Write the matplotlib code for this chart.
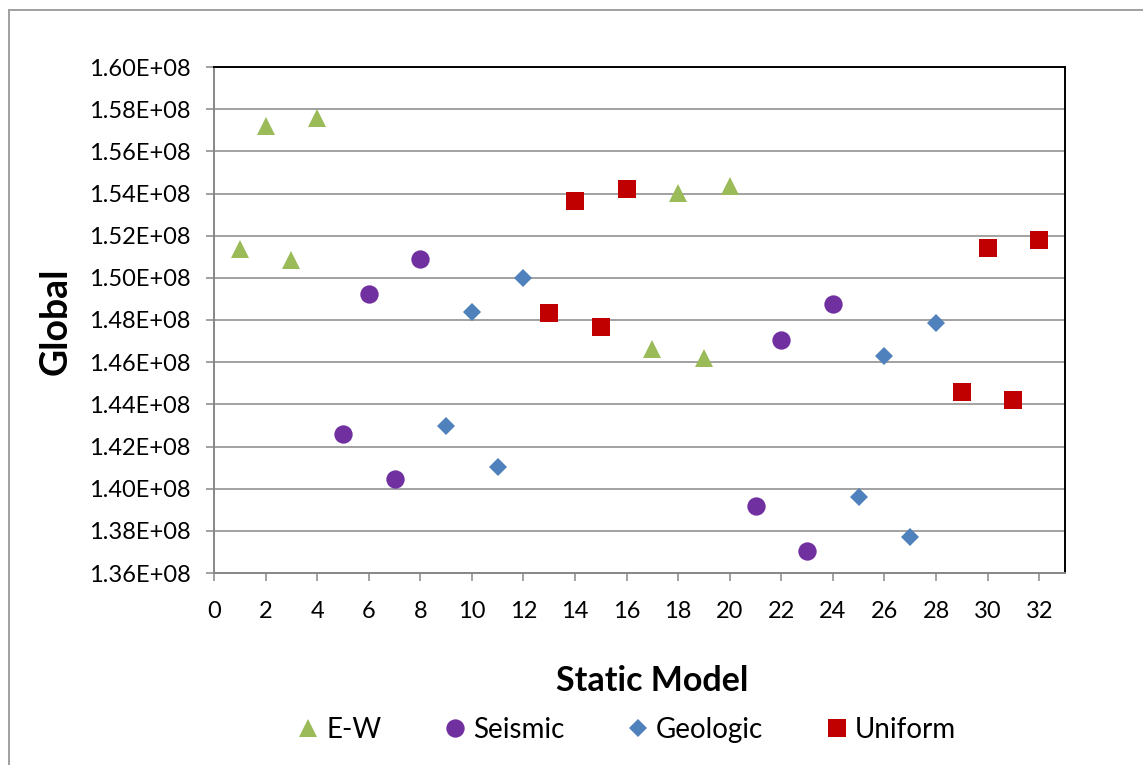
import matplotlib
matplotlib.use("Agg")
import matplotlib.pyplot as plt
from matplotlib.lines import Line2D
from matplotlib.ticker import FuncFormatter

plt.rcParams["font.family"] = ["Lato", "DejaVu Sans"]

# static model number -> global value, one list per model family
ew_x = [1, 2, 3, 4, 17, 18, 19, 20]
ew_y = [1.5136e8, 1.5719e8, 1.5084e8, 1.5759e8, 1.4661e8, 1.5403e8, 1.4621e8, 1.5435e8]

seismic_x = [5, 6, 7, 8, 21, 22, 23, 24]
seismic_y = [1.4258e8, 1.4925e8, 1.4044e8, 1.5089e8, 1.3919e8, 1.4704e8, 1.3704e8, 1.4874e8]

geologic_x = [9, 10, 11, 12, 25, 26, 27, 28]
geologic_y = [1.4297e8, 1.4838e8, 1.4101e8, 1.4998e8, 1.3959e8, 1.4629e8, 1.3772e8, 1.4786e8]

uniform_x = [13, 14, 15, 16, 29, 30, 31, 32]
uniform_y = [1.4832e8, 1.5363e8, 1.4765e8, 1.5420e8, 1.4457e8, 1.5140e8, 1.4419e8, 1.5178e8]

x_ticks = list(range(0, 33, 2))
y_ticks = [1.36e8 + i * 0.02e8 for i in range(13)]

GREEN = "#9BBB59"
PURPLE = "#7030A0"
BLUE = "#4F81BD"
RED = "#C00000"
GRID = "#878787"

series = [
    ("E-W", ew_x, ew_y, "^", 13, GREEN),
    ("Seismic", seismic_x, seismic_y, "o", 13.2, PURPLE),
    ("Geologic", geologic_x, geologic_y, "D", 8.8, BLUE),
    ("Uniform", uniform_x, uniform_y, "s", 13.5, RED),
]

W, H = 1143, 765
fig = plt.figure(figsize=(W / 100, H / 100), dpi=100)
ax = fig.add_axes([214 / W, 1 - 573 / H, (1065 - 214) / W, (573 - 67) / H])

for name, xs, ys, marker, size, color in series:
    ax.plot(xs, ys, linestyle="none", marker=marker, markersize=size,
            color=color, markeredgewidth=0, label=name, zorder=3)

ax.set_xlim(0, 33)
ax.set_ylim(1.36e8, 1.60e8)
ax.set_xticks(x_ticks)
ax.set_yticks(y_ticks)
ax.yaxis.set_major_formatter(FuncFormatter(lambda v, _: f"{v:.2E}"))
ax.grid(axis="y", color=GRID, linewidth=1.1, zorder=0)
ax.set_axisbelow(True)

ax.tick_params(direction="out", length=6, width=1.1, color=GRID,
               labelsize=17, pad=11)
ax.tick_params(axis="x", pad=14)
for side in ("left", "bottom"):
    ax.spines[side].set_color(GRID)
    ax.spines[side].set_linewidth(1.4)
for side in ("top", "right"):
    ax.spines[side].set_color("black")
    ax.spines[side].set_linewidth(1.4)

fig.text(56 / W, 1 - 321 / H, "Global", rotation=90, ha="center", va="center",
         fontsize=27, fontweight="bold")
fig.text(652 / W, 1 - 681 / H, "Static Model", ha="center", va="center",
         fontsize=24.5, fontweight="bold")

handles = [Line2D([], [], linestyle="none", marker=m, markersize=s,
                  color=c, markeredgewidth=0) for _, _, _, m, s, c in series]
fig.legend(handles, [s[0] for s in series], loc="center",
           bbox_to_anchor=(626 / W, 1 - 730 / H), ncol=4, frameon=False,
           fontsize=20, handlelength=0.9, handletextpad=0.2,
           columnspacing=2.2)

# chart-area border (top and left edges fall inside the canvas)
fig.add_artist(Line2D([9 / W, 1], [1 - 9.5 / H] * 2, color="#A0A0A0",
                      linewidth=1.4, transform=fig.transFigure))
fig.add_artist(Line2D([9 / W] * 2, [0, 1 - 9.5 / H], color="#A0A0A0",
                      linewidth=1.4, transform=fig.transFigure))

fig.savefig("out.png", dpi=100)
